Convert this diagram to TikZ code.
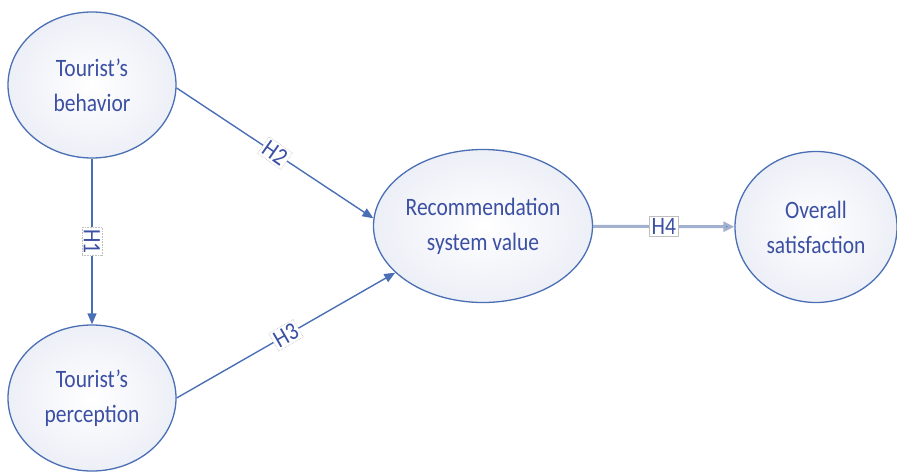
\documentclass[tikz,border=0pt]{standalone}
\usepackage{fontspec}
\setmainfont{Carlito}
\newfontfamily\condfont[FakeStretch=0.86,Ligatures=TeX]{Carlito}
\usetikzlibrary{arrows.meta,shapes.geometric}
\definecolor{edgeblue}{HTML}{4A6FB5}
\definecolor{txtblue}{HTML}{3B4FA3}
\definecolor{fillgray}{HTML}{EDEFF7}
\definecolor{h4line}{HTML}{A3B1D1}
\tikzset{
  construct/.style={ellipse, draw=edgeblue, line width=1.3pt, inner color=white, outer color=fillgray,
    text=txtblue, font=\condfont\fontsize{25}{35}\selectfont, align=center, inner xsep=-6pt, inner ysep=0pt},
  link/.style={draw=edgeblue, line width=1.4pt, -{Triangle[length=11pt,width=9pt,fill=edgeblue]}},
  hlabel/.style={fill=white, draw=black!25, densely dotted, line width=0.6pt, text=txtblue,
    font=\condfont\fontsize{25}{28}\selectfont, inner sep=2pt}
}
\begin{document}
\begin{tikzpicture}[x=1pt,y=-1pt]
\useasboundingbox (0,0) rectangle (897,472);
\node[construct, minimum width=168pt, minimum height=146pt] (beh) at (92,85) {Tourist’s\\behavior};
\node[construct, minimum width=168pt, minimum height=146pt] (per) at (92,398) {Tourist’s\\perception};
\node[construct, minimum width=219pt, minimum height=153pt] (rec) at (483,226) {Recommendation\\system value};
\node[construct, minimum width=162pt, minimum height=151pt] (sat) at (816,227) {Overall\\satisfaction};
\draw[link] (beh) -- node[hlabel, rotate=-90] {H1} (per);
\draw[link] (beh.-2) -- node[hlabel, rotate=-35, pos=0.5] {H2} (rec.176);
\draw[link] (per.0) -- node[hlabel, rotate=30, pos=0.5] {H3} (rec.208);
\draw[link, draw=h4line, line width=3pt, -{Triangle[length=11pt,width=10pt,fill=edgeblue]}] (rec) -- node[hlabel, solid, pos=0.5] {H4} (sat);
\end{tikzpicture}
\end{document}
